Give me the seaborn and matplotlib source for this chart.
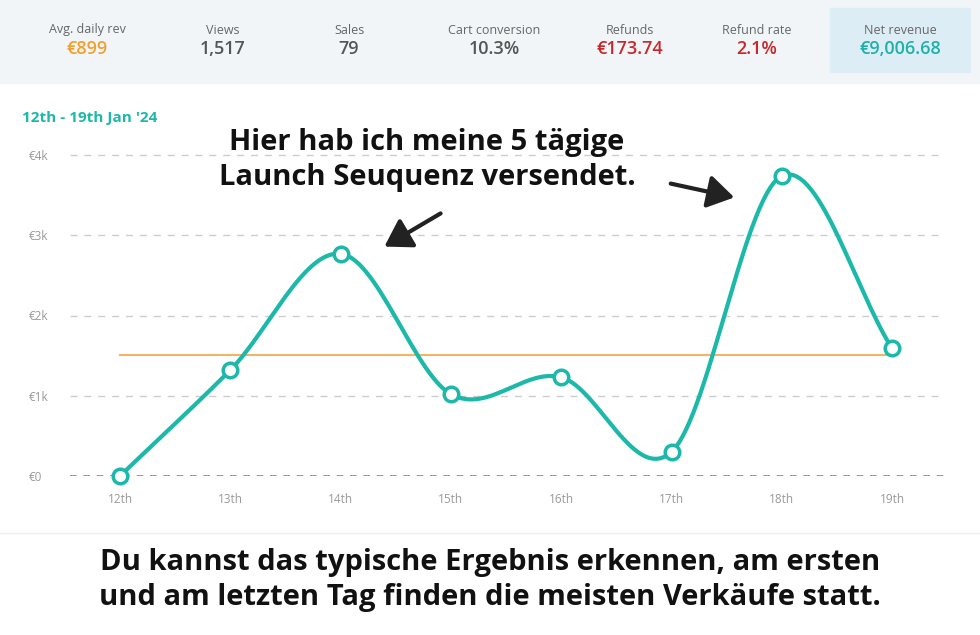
import numpy as np
import pandas as pd
import matplotlib
matplotlib.use("Agg")
import matplotlib.pyplot as plt
import seaborn as sns
from matplotlib.patches import Rectangle

days = ["12th", "13th", "14th", "15th", "16th", "17th", "18th", "19th"]
revenue = [0, 1320, 2770, 1020, 1230, 300, 3740, 1590]
average = 1510
y_ticks = [0, 1000, 2000, 3000, 4000]
y_labels = ["€0", "€1k", "€2k", "€3k", "€4k"]
metric_names = ["Avg. daily rev", "Views", "Sales", "Cart conversion", "Refunds", "Refund rate", "Net revenue"]
metric_values = ["€899", "1,517", "79", "10.3%", "€173.74", "2.1%", "€9,006.68"]
metric_colors = ["#f0a030", "#555555", "#555555", "#555555", "#c8282d", "#c8282d", "#1fb0a8"]

TEAL = "#1cb8aa"
W, H = 980, 635
fig = plt.figure(figsize=(9.8, 6.35), dpi=100)
fig.patch.set_facecolor("white")
font = "Open Sans"

def fx(p): return p / W
def fy(p): return 1 - p / H

# header
fig.patches.append(Rectangle((0, fy(83)), 1, 83 / H, transform=fig.transFigure, color="#f2f5f7", zorder=0))
fig.patches.append(Rectangle((fx(830), fy(72)), 140 / W, 64 / H, transform=fig.transFigure, color="#dcedf6", zorder=1))
centers = [87, 223, 349, 494, 630, 757, 900]
for cx, n, v, c in zip(centers, metric_names, metric_values, metric_colors):
    fig.text(fx(cx), fy(30), n, ha="center", va="center", fontsize=9, color="#666666", family=font)
    fig.text(fx(cx), fy(49), v, ha="center", va="center", fontsize=13, color=c, family=font, fontweight="semibold")

# chart axes
left, right, top, bottom = 70, 945, 130, 476
ax = fig.add_axes([fx(left), fy(bottom), (right - left) / W, (bottom - top) / H])
x = np.arange(len(days))
ax.set_xlim(-50 / 110.3, (right - 120) / 110.3)
ax.set_ylim(0, (bottom - top) / 80.25 * 1000)

# Catmull-Rom smoothing for the curve
pts = np.array(revenue, dtype=float)
P = np.concatenate([[2 * pts[0] - pts[1]], pts, [2 * pts[-1] - pts[-2]]])
xs, ys = [], []
for i in range(len(pts) - 1):
    t = np.linspace(0, 1, 30, endpoint=False)
    p0, p1, p2, p3 = P[i], P[i + 1], P[i + 2], P[i + 3]
    yv = 0.5 * (2 * p1 + (-p0 + p2) * t + (2 * p0 - 5 * p1 + 4 * p2 - p3) * t ** 2 + (-p0 + 3 * p1 - 3 * p2 + p3) * t ** 3)
    xs.extend(i + t); ys.extend(yv)
xs.append(len(pts) - 1); ys.append(pts[-1])
curve = pd.DataFrame({"x": xs, "y": ys})
pts_df = pd.DataFrame({"x": x, "y": revenue})

for yt in y_ticks[1:]:
    ax.axhline(yt, color="#cccccc", lw=1, ls=(0, (5, 5)), zorder=0)
ax.axhline(0, color="#888888", lw=1.2, ls=(0, (4, 4)), zorder=0)
ax.plot([0, len(days) - 1], [average, average], color="#f0b565", lw=1.5, zorder=1)
sns.lineplot(data=curve, x="x", y="y", ax=ax, color=TEAL, lw=3, zorder=2)
sns.scatterplot(data=pts_df, x="x", y="y", ax=ax, s=110, color="white", edgecolor=TEAL, linewidth=2.5, zorder=3, clip_on=False)

ax.set_xticks(x)
ax.set_xticklabels(days, fontsize=8.5, color="#999999", family=font)
ax.set_yticks(y_ticks)
ax.set_yticklabels(y_labels, fontsize=8.5, color="#999999", family=font)
ax.tick_params(length=0, pad=12)
ax.tick_params(axis="y", pad=-2)
for yl in ax.get_yticklabels():
    yl.set_horizontalalignment("left")
    yl.set_x(-0.05)
for s in ax.spines.values():
    s.set_visible(False)
ax.set_xlabel(""); ax.set_ylabel("")
ax.patch.set_alpha(0)

fig.text(fx(22), fy(118), "12th - 19th Jan '24", fontsize=11, color=TEAL, fontweight="bold", family=font, va="center")

fig.text(fx(427), fy(160), "Hier hab ich meine 5 tägige\nLaunch Seuquenz versendet.", ha="center", va="center",
         fontsize=21, fontweight="bold", family=font, color="#111111", linespacing=1.3)
fig.patches.append(matplotlib.patches.FancyArrowPatch((fx(443), fy(212)), (fx(382), fy(248)), transform=fig.transFigure,
                   arrowstyle="-|>,head_length=8,head_width=5", color="#222222", lw=3, mutation_scale=2))
fig.patches.append(matplotlib.patches.FancyArrowPatch((fx(668), fy(183)), (fx(737), fy(198)), transform=fig.transFigure,
                   arrowstyle="-|>,head_length=8,head_width=5", color="#222222", lw=3, mutation_scale=2))

fig.add_artist(plt.Line2D([0, 1], [fy(533), fy(533)], color="#eeeeee", lw=1))
fig.text(0.5, fy(580), "Du kannst das typische Ergebnis erkennen, am ersten\nund am letzten Tag finden die meisten Verkäufe statt.",
         ha="center", va="center", fontsize=21, fontweight="bold", family=font, color="#111111", linespacing=1.3)

fig.savefig("out.png", dpi=100)
